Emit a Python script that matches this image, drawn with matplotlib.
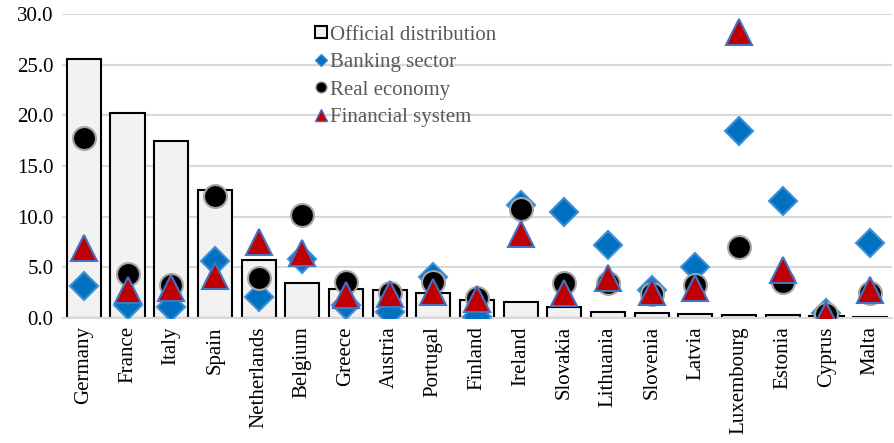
import matplotlib.pyplot as plt
from matplotlib.lines import Line2D
import numpy as np

countries = ["Germany", "France", "Italy", "Spain", "Netherlands", "Belgium", "Greece",
             "Austria", "Portugal", "Finland", "Ireland", "Slovakia", "Lithuania", "Slovenia",
             "Latvia", "Luxembourg", "Estonia", "Cyprus", "Malta"]
official = [25.6, 20.2, 17.5, 12.6, 5.7, 3.5, 2.9, 2.8, 2.5, 1.8, 1.6, 1.1, 0.6, 0.5, 0.4, 0.3, 0.3, 0.2, 0.1]
banking = [3.2, 1.3, 1.1, 5.6, 2.1, 5.8, 1.3, 0.6, 4.0, 0.1, 11.2, 10.5, 7.2, 2.8, 5.0, 18.5, 11.5, 0.5, 7.4]
real_economy = [17.8, 4.3, 3.3, 12.0, 3.9, 10.2, 3.6, 2.5, 3.6, 2.0, 10.8, 3.5, 3.5, 2.4, 3.3, 7.0, 3.6, 0.4, 2.5]
financial = [6.9, 2.8, 3.0, 4.1, 7.5, 6.4, 2.3, 2.4, 2.6, 1.9, 8.3, 2.5, 3.9, 2.6, 3.0, 28.2, 4.7, 0.3, 2.8]

plt.rcParams["font.family"] = ["Liberation Serif", "DejaVu Serif"]

fig = plt.figure(figsize=(8.95, 4.43), dpi=100)
ax = fig.add_axes([62 / 895, 1 - 318 / 443, 830 / 895, 304 / 443])

x = np.arange(len(countries))
ax.bar(x, official, width=0.78, color="#f2f2f2", edgecolor="black", linewidth=1.5, zorder=2)
ax.plot(x, banking, "D", ms=14, color="#0070c0", mec="#3d8fd6", mew=1.5, zorder=3)
ax.plot(x, real_economy, "o", ms=16.5, color="black", mec="#a6a6a6", mew=1.5, zorder=4)
ax.plot(x, financial, "^", ms=18.5, color="#c00000", mec="#4472c4", mew=1.5, zorder=5)

ax.set_xlim(-0.5, len(countries) - 0.5)
ax.set_ylim(0, 30)
ax.set_yticks(np.arange(0, 31, 5))
ax.set_yticklabels([f"{v:.1f}" for v in np.arange(0, 31, 5)], fontsize=15)
ax.set_xticks(x)
ax.set_xticklabels(countries, rotation=90, fontsize=15)
ax.tick_params(length=0, pad=6)
ax.yaxis.grid(True, color="#d9d9d9", linewidth=1.5, zorder=0)
ax.set_axisbelow(True)
for s in ["top", "right", "left"]:
    ax.spines[s].set_visible(False)
ax.spines["bottom"].set_color("#d9d9d9")
ax.spines["bottom"].set_linewidth(1.5)

# legend with small marker handles
handles = [
    Line2D([], [], ls="", marker="s", ms=8, color="#f2f2f2", mec="black", mew=1.5),
    Line2D([], [], ls="", marker="D", ms=6, color="#0070c0", mec="#3d8fd6", mew=1),
    Line2D([], [], ls="", marker="o", ms=8, color="black", mec="#a6a6a6", mew=1),
    Line2D([], [], ls="", marker="^", ms=9, color="#c00000", mec="#4472c4", mew=1),
]
labels = ["Official distribution", "Banking sector", "Real economy", "Financial system"]
leg = ax.legend(handles, labels, loc="upper left", bbox_to_anchor=(0.287, 1.005), frameon=False,
                fontsize=15, handletextpad=0.05, labelspacing=0.38, handlelength=0.8,
                borderaxespad=0.2)
for t in leg.get_texts():
    t.set_color("#595959")

fig.savefig("out.png", dpi=100)
